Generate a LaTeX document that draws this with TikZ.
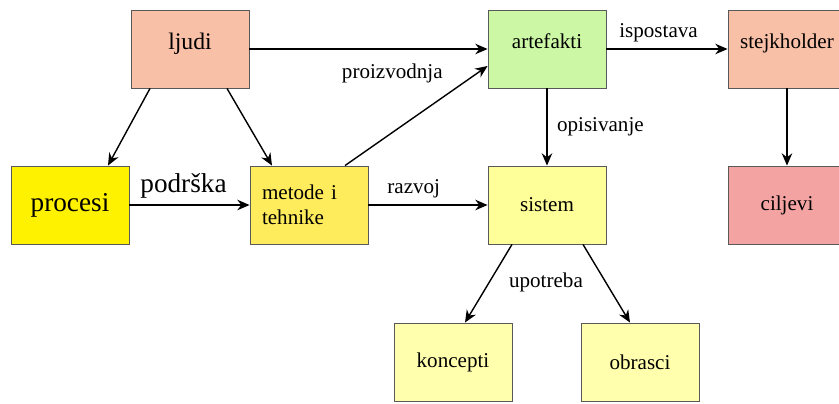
\documentclass[tikz,border=0pt]{standalone}
\usepackage{fontspec}
\setmainfont{Liberation Serif}
\usetikzlibrary{positioning, arrows.meta}

\definecolor{lososova}{HTML}{F9C0A8}
\definecolor{crvenkasta}{HTML}{F4A3A3}
\definecolor{zuta}{HTML}{FFF200}
\definecolor{zlatna}{HTML}{FFEC5C}
\definecolor{svijetlozuta}{HTML}{FFFF99}
\definecolor{blijedozuta}{HTML}{FFFFAE}
\definecolor{zelena}{HTML}{CCF8A6}

\begin{document}
\begin{tikzpicture}[x=0.02cm, y=-0.02cm, >={Stealth[length=7pt,width=6pt]}, auto,
    box/.style={draw=black!65, line width=0.5pt, minimum width=2.36cm, minimum height=1.56cm,
      inner sep=0pt, font=\fontsize{12}{14}\selectfont},
    top/.style={text depth=9pt},
    veza/.style={->, line width=0.8pt},
    opis/.style={font=\fontsize{12}{14}\selectfont}]
    \useasboundingbox (0,0) rectangle (839,403);
    \clip (0,0) rectangle (839,403);
    % gornji red
    \node[box, top, fill=lososova, font=\fontsize{13.5}{15}\selectfont] (ljudi) at (190,49) {ljudi};
    \node[box, top, fill=zelena] (artefakti) at (547,49) {artefakti};
    \node[box, top, fill=lososova] (stejkholder) at (787,49) {stejkholder};
    % srednji red
    \node[box, fill=zuta, font=\fontsize{15.5}{17}\selectfont] (procesi) at (70,205) {procesi};
    \node[box, fill=zlatna, align=left, text width=1.88cm] (metode) at (309,205) {metode i\\tehnike};
    \node[box, fill=svijetlozuta] (sistem) at (547,205) {sistem};
    \node[box, fill=crvenkasta] (ciljevi) at (787,205) {ciljevi};
    % donji red
    \node[box, fill=blijedozuta] (koncepti) at (453,362) {koncepti};
    \node[box, fill=blijedozuta] (obrasci) at (640,362) {obrasci};
    \node[opis] (upotreba) at (546,282) {upotreba};
    \path[every edge/.style={draw, veza}]
      (ljudi) edge node[opis, pos=.6, below=5pt] {proizvodnja} (artefakti)
      ([xshift=-0.8cm]ljudi.south) edge ([xshift=0.76cm]procesi.north)
      ([xshift=0.74cm]ljudi.south) edge ([xshift=-0.74cm]metode.north)
      ([xshift=0.72cm]metode.north) edge ([yshift=-0.34cm]artefakti.west)
      (procesi) edge node[font=\fontsize{15.5}{17}\selectfont, pos=.45] {podrška} (metode)
      (metode) edge node[opis, pos=.38] {razvoj} (sistem)
      (artefakti) edge node[opis, right=2pt] {opisivanje} (sistem)
      (artefakti) edge node[opis, pos=.43] {ispostava} (stejkholder)
      (stejkholder) edge (ciljevi)
      ([xshift=-0.7cm]sistem.south) edge ([xshift=0.24cm]koncepti.north)
      ([xshift=0.72cm]sistem.south) edge ([xshift=-0.2cm]obrasci.north);
\end{tikzpicture}
\end{document}
